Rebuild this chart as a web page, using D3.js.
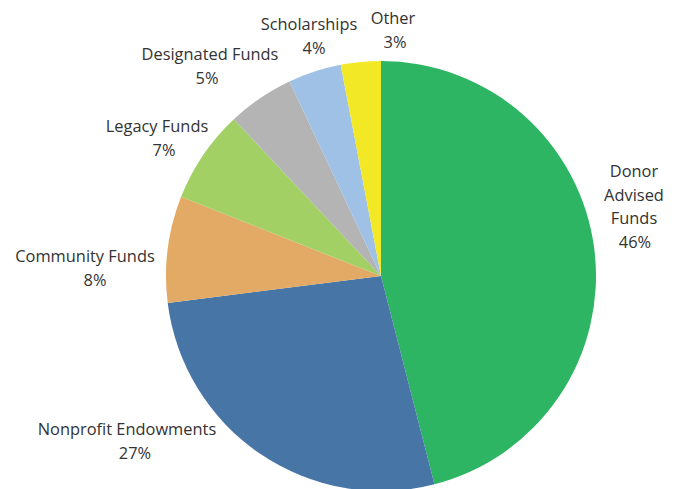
<!DOCTYPE html>
<html><head><meta charset="utf-8">
<script src="https://cdn.jsdelivr.net/npm/d3@7"></script>
<style>body{margin:0;background:#fff;}svg{display:block;}</style>
</head><body>
<script>
const categories = ["Donor Advised Funds","Nonprofit Endowments","Community Funds","Legacy Funds","Designated Funds","Scholarships","Other"];
const values = [46, 27, 8, 7, 5, 4, 3];
const colors = ["#2db563","#4775a6","#e2aa64","#a2d065","#b3b4b3","#a0c1e6","#f3e826"];
const labelLines = [["Donor","Advised","Funds"],["Nonprofit Endowments"],["Community Funds"],["Legacy Funds"],["Designated Funds"],["Scholarships"],["Other"]];
// label layout: anchor (center x, first baseline y), horizontal nudge of the percent line
const labelPos = [[634,177],[127,435],[85,262],[157,132],[210,60],[309,30],[393,24]];
const pctDx = [1,8,10,7,-3,5,2];

const W=680,H=489, cx=381, cy=276, R=215;
const svg=d3.select("body").append("svg").attr("width",W).attr("height",H);
const pie=d3.pie().sort(null).value(d=>d)(values);
const arc=d3.arc().innerRadius(0).outerRadius(R);
const g=svg.append("g").attr("transform",`translate(${cx},${cy})`);
g.selectAll("path").data(pie).join("path").attr("d",arc).attr("fill",(d,i)=>colors[i]);
const total=d3.sum(values);
const lab=svg.append("g").attr("font-family","'Open Sans', sans-serif").attr("font-size",16.4).attr("fill","#333").attr("text-anchor","middle");
labelLines.forEach((lines,i)=>{
  const t=lab.append("text").attr("x",labelPos[i][0]).attr("y",labelPos[i][1]);
  lines.forEach((l,j)=>t.append("tspan").attr("x",labelPos[i][0]).attr("dy",j?23.5:0).text(l));
  t.append("tspan").attr("x",labelPos[i][0]+pctDx[i]).attr("dy",23.5).text(d3.format(".0%")(values[i]/total));
});
</script>
</body></html>
